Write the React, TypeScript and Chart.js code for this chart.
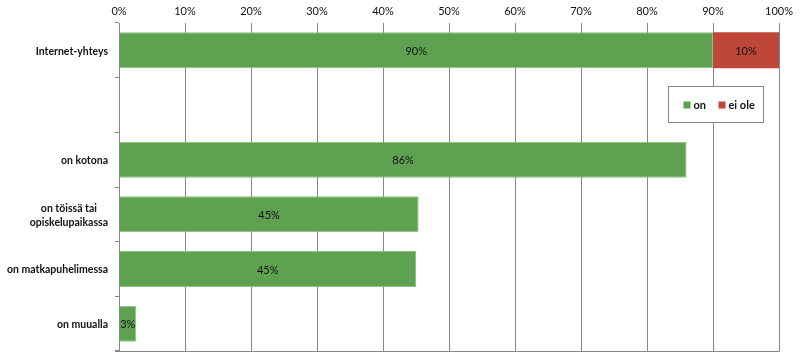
import React, { useEffect, useRef } from "react";
import { Chart, registerables } from "chart.js";

Chart.register(...registerables);

const categories: (string | string[])[] = [
  "Internet-yhteys",
  "",
  "on kotona",
  ["on töissä tai", "opiskelupaikassa"],
  "on matkapuhelimessa",
  "on muualla",
];
const onValues: (number | null)[] = [90, null, 86, 45.4, 45, 2.6];
const eiOleValues: (number | null)[] = [10, null, null, null, null, null];
const seriesNames = ["on", "ei ole"];
const xTicks = [0, 10, 20, 30, 40, 50, 60, 70, 80, 90, 100];

const GREEN = "#5EA151";
const RED = "#BF4739";
const GRID = "#878787";
const FONT = "Lato, 'Open Sans', sans-serif";

const labelPlugin = {
  id: "barLabels",
  afterDatasetsDraw(chart: any) {
    const ctx = chart.ctx;
    ctx.save();
    ctx.font = `11px ${FONT}`;
    ctx.fillStyle = "#111";
    ctx.textAlign = "center";
    ctx.textBaseline = "middle";
    chart.data.datasets.forEach((ds: any, di: number) => {
      const meta = chart.getDatasetMeta(di);
      meta.data.forEach((bar: any, i: number) => {
        const v = ds.data[i];
        if (v == null) return;
        const { x, base, y } = bar.getProps(["x", "base", "y"], true);
        ctx.fillText(`${Math.round(v)}%`, (x + base) / 2, y + 1);
      });
    });
    ctx.restore();
  },
};

// category labels: block right-aligned to the axis, lines centred within the block
const categoryLabelPlugin = {
  id: "categoryLabels",
  afterDraw(chart: any) {
    const ctx = chart.ctx;
    const ys = chart.scales.y;
    const rightEdge = chart.chartArea.left - 11;
    ctx.save();
    ctx.font = `bold 10.5px ${FONT}`;
    ctx.fillStyle = "#111";
    ctx.textAlign = "center";
    ctx.textBaseline = "middle";
    const lineH = 14;
    (chart.data.labels as any[]).forEach((lab: any, i: number) => {
      const lines: string[] = Array.isArray(lab) ? lab : [lab];
      if (!lines.join("")) return;
      const w = Math.max(...lines.map((l) => ctx.measureText(l).width));
      const cx = rightEdge - w / 2;
      const cy = ys.getPixelForValue(i);
      const start = cy - ((lines.length - 1) * lineH) / 2;
      lines.forEach((l, k) => ctx.fillText(l, cx, start + k * lineH + 1));
    });
    ctx.restore();
  },
};

const legendPlugin = {
  id: "insideLegend",
  afterDraw(chart: any) {
    const ctx = chart.ctx;
    const xs = chart.scales.x;
    const a = chart.chartArea;
    const left = Math.round(xs.getPixelForValue(83.2)) + 0.5;
    const right = Math.round(xs.getPixelForValue(97.6)) + 0.5;
    const top = Math.round(a.top + 63) + 0.5;
    const bottom = top + 36;
    ctx.save();
    ctx.fillStyle = "#fff";
    ctx.fillRect(left, top, right - left, bottom - top);
    ctx.strokeStyle = GRID;
    ctx.lineWidth = 1;
    ctx.strokeRect(left, top, right - left, bottom - top);
    ctx.font = `bold 11px ${FONT}`;
    ctx.textBaseline = "middle";
    ctx.textAlign = "left";
    const cy = top + 19;
    let x = left + 15;
    chart.data.datasets.forEach((ds: any) => {
      ctx.fillStyle = ds.backgroundColor;
      ctx.fillRect(x, cy - 4, 7, 7);
      ctx.fillStyle = "#111";
      ctx.fillText(ds.label, x + 10, cy);
      x += 35;
    });
    ctx.restore();
  },
};

const bottomLinePlugin = {
  id: "bottomLine",
  afterDraw(chart: any) {
    const ctx = chart.ctx;
    const a = chart.chartArea;
    ctx.save();
    ctx.strokeStyle = GRID;
    ctx.lineWidth = 1;
    ctx.beginPath();
    ctx.moveTo(a.left - 4, Math.round(a.bottom) + 0.5);
    ctx.lineTo(a.right + 0.5, Math.round(a.bottom) + 0.5);
    ctx.stroke();
    ctx.restore();
  },
};

export default function App() {
  const ref = useRef<HTMLCanvasElement>(null);
  useEffect(() => {
    if (!ref.current) return;
    const chart = new Chart(ref.current, {
      type: "bar",
      data: {
        labels: categories,
        datasets: [
          {
            label: seriesNames[0],
            data: onValues,
            backgroundColor: GREEN,
            borderColor: "#8DC283",
            borderWidth: 1,
            barPercentage: 1,
            categoryPercentage: 0.66,
          },
          {
            label: seriesNames[1],
            data: eiOleValues,
            backgroundColor: RED,
            borderWidth: 0,
            barPercentage: 1,
            categoryPercentage: 0.66,
          },
        ],
      },
      options: {
        indexAxis: "y",
        animation: false,
        responsive: true,
        maintainAspectRatio: false,
        layout: { padding: { left: 0, right: 24, top: 0, bottom: 5 } },
        plugins: {
          legend: { display: false },
          tooltip: { enabled: false },
        },
        scales: {
          x: {
            position: "top",
            stacked: true,
            min: 0,
            max: 100,
            afterFit(scale: any) {
              scale.height = 23;
            },
            afterBuildTicks(scale: any) {
              scale.ticks = xTicks.map((v) => ({ value: v }));
            },
            ticks: {
              callback: (v: any) => `${v}%`,
              font: { family: FONT, size: 11 },
              color: "#111",
              padding: 5,
            },
            grid: {
              color: GRID,
              drawTicks: false,
            },
            border: { display: false },
          },
          y: {
            stacked: true,
            afterFit(scale: any) {
              scale.width = 119;
            },
            ticks: {
              display: false,
              autoSkip: false,
            },
            grid: {
              color: GRID,
              drawOnChartArea: false,
              tickLength: 4,
              offset: true,
            },
            border: { display: true, color: GRID },
          },
        },
      },
      plugins: [labelPlugin, categoryLabelPlugin, legendPlugin, bottomLinePlugin],
    } as any);
    return () => chart.destroy();
  }, []);
  return (
    <div style={{ position: "fixed", left: 0, top: 0, width: 803, height: 356, background: "#fff" }}>
      <canvas ref={ref} />
    </div>
  );
}
